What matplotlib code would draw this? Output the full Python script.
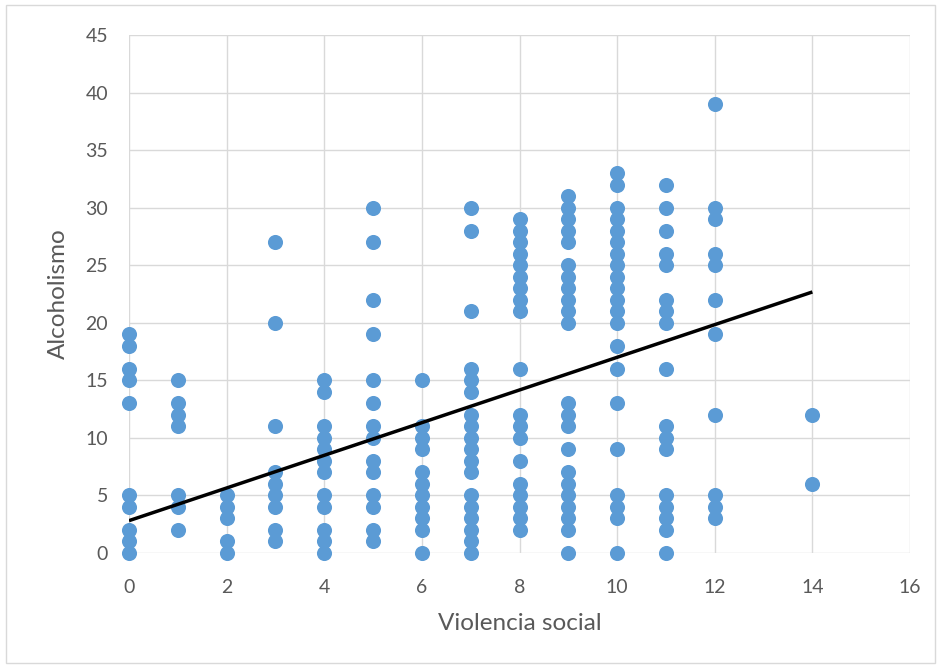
import matplotlib
matplotlib.use("Agg")
import matplotlib.pyplot as plt
import numpy as np
from matplotlib.patches import Rectangle

# Data: Violencia social (x) -> list of Alcoholismo (y) values
x0 = [19, 18, 16, 15, 13, 5, 4, 2, 1, 0]
x1 = [15, 13, 12, 11, 5, 4, 2]
x2 = [5, 4, 3, 1, 0]
x3 = [27, 20, 11, 7, 6, 5, 4, 2, 1]
x4 = [15, 14, 11, 10, 9, 8, 7, 5, 4, 2, 1, 0]
x5 = [30, 27, 22, 19, 15, 13, 11, 10, 8, 7, 5, 4, 2, 1]
x6 = [15, 11, 10, 9, 7, 6, 5, 4, 3, 2, 0]
x7 = [30, 28, 21, 16, 15, 14, 12, 11, 10, 9, 8, 7, 5, 4, 3, 2, 1, 0]
x8 = [29, 28, 27, 26, 25, 24, 23, 22, 21, 16, 12, 11, 10, 8, 6, 5, 4, 3, 2]
x9 = [31, 30, 29, 28, 27, 25, 24, 23, 22, 21, 20, 13, 12, 11, 9, 7, 6, 5, 4, 3, 2, 0]
x10 = [33, 32, 30, 29, 28, 27, 26, 25, 24, 23, 22, 21, 20, 18, 16, 13, 9, 5, 4, 3, 0]
x11 = [32, 30, 28, 26, 25, 22, 21, 20, 16, 11, 10, 9, 5, 4, 3, 2, 0]
x12 = [39, 30, 29, 26, 25, 22, 19, 12, 5, 4, 3]
x14 = [12, 6]

# Linear trend line as shown in the chart
trend_intercept = 2.81
trend_slope = 1.419

groups = {0: x0, 1: x1, 2: x2, 3: x3, 4: x4, 5: x5, 6: x6, 7: x7,
          8: x8, 9: x9, 10: x10, 11: x11, 12: x12, 14: x14}

xs = np.array([k for k, v in groups.items() for _ in v], dtype=float)
ys = np.array([y for v in groups.values() for y in v], dtype=float)

x_ticks = [0, 2, 4, 6, 8, 10, 12, 14, 16]
y_ticks = [0, 5, 10, 15, 20, 25, 30, 35, 40, 45]

plt.rcParams['font.family'] = ['Lato', 'DejaVu Sans']

fig = plt.figure(figsize=(9.41, 6.68), dpi=100)
ax = fig.add_axes([129/941, 1 - 553/668, (910-129)/941, (553-35)/668])

grid_c = '#D9D9D9'
ax.set_xlim(0, 16)
ax.set_ylim(0, 45)
ax.set_xticks(x_ticks)
ax.set_yticks(y_ticks)
ax.grid(True, color=grid_c, linewidth=1.0, zorder=0)
for s in ax.spines.values():
    s.set_visible(False)
ax.tick_params(length=0, colors='#595959', labelsize=14)
ax.tick_params(axis='y', pad=15)
ax.tick_params(axis='x', pad=19)

ax.scatter(xs, ys, s=118, color='#5B9BD5', zorder=3, clip_on=False, linewidths=0)

lx = np.array([xs.min(), xs.max()])
ax.plot(lx, trend_intercept + trend_slope * lx, color='black', linewidth=2.5,
        zorder=4, solid_capstyle='butt')

ax.set_xlabel('Violencia social', fontsize=17.5, color='#595959', labelpad=12)
ax.set_ylabel('Alcoholismo', fontsize=17.5, color='#595959', labelpad=12)

fig.patches.append(Rectangle((6/941, 5/668), 929/941, 658/668, transform=fig.transFigure,
                             fill=False, edgecolor=grid_c, linewidth=1.0))

fig.savefig('out.png', dpi=100, facecolor='white')
